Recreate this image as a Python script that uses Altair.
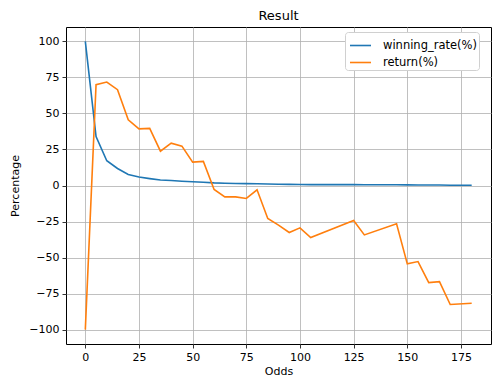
import altair as alt
import pandas as pd

odds = [0, 5, 10, 15, 20, 25, 30, 35, 40, 45, 50, 55, 60, 65, 70, 75, 80, 85, 90, 95,
        100, 105, 125, 130, 145, 150, 155, 160, 165, 170, 180]
winning_rate = [100, 34, 17.2, 11.8, 7.6, 5.9, 4.8, 3.8, 3.5, 3.0, 2.6, 2.3, 1.8, 1.6, 1.4,
                1.3, 1.2, 1.0, 0.9, 0.8, 0.7, 0.6, 0.6, 0.5, 0.5, 0.4, 0.35, 0.3, 0.3, 0.2, 0.2]
return_pct = [-100, 70, 71.8, 66.5, 45.6, 39.3, 39.6, 23.8, 29.4, 27.3, 16.2, 16.7, -2.8,
              -7.9, -7.9, -9.0, -3.0, -22.9, -27.5, -32.6, -29.4, -36.1, -24.3, -34.3, -26.6,
              -54.4, -52.8, -67.4, -66.7, -82.6, -81.7]
series_names = ["winning_rate(%)", "return(%)"]
colors = ["#1f77b4", "#ff7f0e"]
x_ticks = [0, 25, 50, 75, 100, 125, 150, 175]
y_ticks = [-100, -75, -50, -25, 0, 25, 50, 75, 100]

rows = []
for i, o in enumerate(odds):
    rows.append({"Odds": o, "Percentage": winning_rate[i], "series": series_names[0], "order": 0})
    rows.append({"Odds": o, "Percentage": return_pct[i], "series": series_names[1], "order": 1})
df = pd.DataFrame(rows)

font = "DejaVu Sans"

chart = alt.Chart(df).mark_line(strokeWidth=1.6, clip=True).encode(
    x=alt.X("Odds:Q",
            scale=alt.Scale(domain=[-9, 189], nice=False, zero=False),
            axis=alt.Axis(values=x_ticks, title="Odds")),
    y=alt.Y("Percentage:Q",
            scale=alt.Scale(domain=[-110, 110], nice=False, zero=False),
            axis=alt.Axis(values=y_ticks, title="Percentage")),
    color=alt.Color("series:N",
                    scale=alt.Scale(domain=series_names, range=colors),
                    legend=alt.Legend(title=None, orient="none", legendX=279, legendY=5,
                                      symbolType="stroke", symbolSize=441, symbolStrokeWidth=1.6,
                                      labelFont=font, labelFontSize=11.5, labelColor="#000",
                                      fillColor="white", strokeColor="#d0d0d0", cornerRadius=3,
                                      padding=2, rowPadding=-2, labelOffset=11, symbolOffset=2)),
    detail="order:O",
).properties(
    width=425, height=317,
    title=alt.Title("Result", font=font, fontSize=13, fontWeight="normal", color="#000", offset=4),
    padding={"left": 58, "top": 19, "right": 1, "bottom": 38},
    autosize=alt.AutoSizeParams(type="none"),
).configure_view(
    stroke="#000", strokeWidth=1
).configure_axis(
    grid=True, gridColor="#b0b0b0", gridWidth=0.8,
    domain=False, tickColor="#000", tickSize=4, tickWidth=0.8,
    labelFont=font, labelFontSize=11, labelColor="#000", labelPadding=3,
    titleFont=font, titleFontSize=11, titleFontWeight="normal", titleColor="#000",
).configure_axisX(titlePadding=3).configure_axisY(titlePadding=8)

chart.save("out.html", embed_options={"renderer": "svg", "actions": False})
